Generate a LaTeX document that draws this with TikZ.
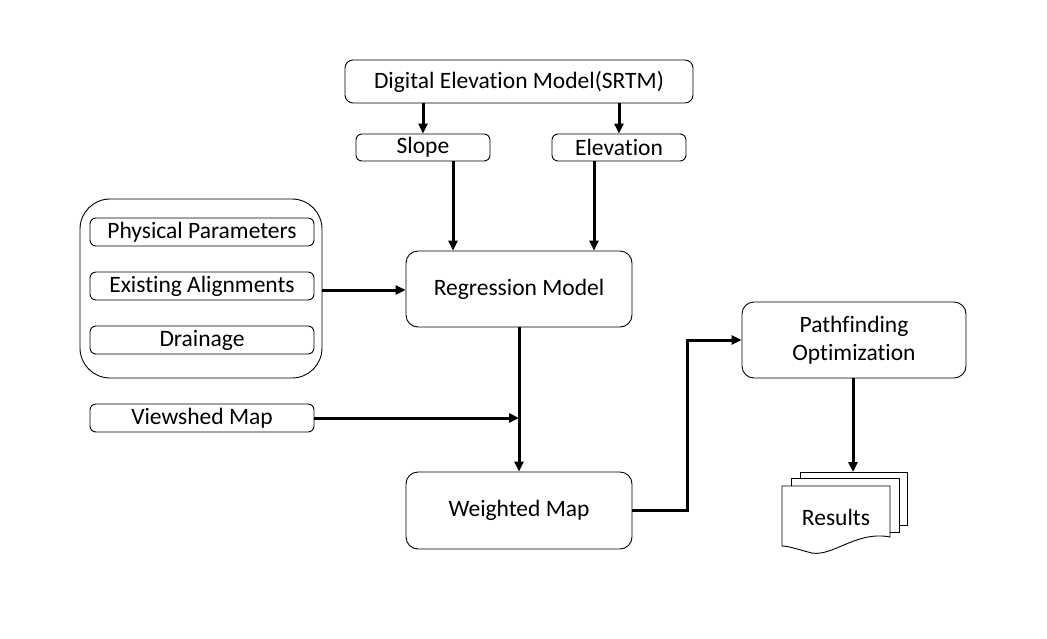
\documentclass[tikz,border=0pt]{standalone}
\usepackage{fontspec}
\setmainfont{Carlito}[Ligatures={CommonOff}]
\usetikzlibrary{arrows.meta}
\begin{document}
\begin{tikzpicture}[x=1pt,y=-1pt,
  every node/.style={font=\fontsize{23.5}{28}\selectfont, inner sep=0pt},
  box/.style={draw, line width=0.9pt, rounded corners=#1},
  box/.default=6pt,
  conn/.style={line width=3pt, -{Triangle[length=10pt,width=9pt]}},
  line/.style={line width=3pt}]
\useasboundingbox (0,0) rectangle (1047,638);
% group container
\draw[box=30pt] (80,199) rectangle (322,378);
\node[box, minimum width=224pt, minimum height=28pt] (phys) at (202,232) {Physical Parameters};
\node[box, minimum width=224pt, minimum height=28pt] (exist) at (202,286) {Existing Alignments};
\node[box, minimum width=224pt, minimum height=28pt] (drain) at (202,340) {Drainage};
\coordinate (grp) at (322,290);
\node[box, minimum width=224pt, minimum height=28pt] (view) at (202,418) {Viewshed Map};
% top
\node[box=8pt, minimum width=348pt, minimum height=43pt] (dem) at (519,81.5) {Digital Elevation Model(SRTM)};
\node[box, minimum width=134pt, minimum height=27pt] (slope) at (423,147.5) {Slope};
\node[box, minimum width=134pt, minimum height=27pt] (elev) at (619,147.5) {Elevation};
% main
\node[box=12pt, minimum width=226pt, minimum height=76pt] (reg) at (519,289) {Regression Model};
\node[box=12pt, minimum width=226pt, minimum height=77pt] (wm) at (519,510.5) {Weighted Map};
\node[box=12pt, minimum width=224pt, minimum height=76pt, align=center] (path) at (854,340) {Pathfinding\\Optimization};
% results document stack
\draw[line width=0.9pt, fill=white] (800,472) -- (907,472) -- (907,525) -- (899,525);
\draw[line width=0.9pt, fill=white] (791,478) -- (899,478) -- (899,532) -- (890,532);
\draw[line width=0.9pt, fill=white] (782,486) -- (890,486) -- (890,537)
   .. controls (855,530) and (830,560) .. (808,552) .. controls (797,549) and (788,546) .. (782,546) -- cycle;
\draw[line width=0.9pt] (800,472) -- (800,478);
\draw[line width=0.9pt] (791,478) -- (791,486);
\node (res) at (836,517) {Results};
\coordinate (restop) at (853,472);
% connectors
\draw[conn] (dem.south -| slope) -- (slope.north);
\draw[conn] (dem.south -| elev) -- (elev.north);
\draw[conn] ([xshift=30pt]slope.south) -- ([xshift=30pt]slope.south |- reg.north);
\draw[conn] ([xshift=-25pt]elev.south) -- ([xshift=-25pt]elev.south |- reg.north);
\draw[conn] (grp) -- (reg.west |- grp);
\draw[conn] (reg.south) -- (wm.north);
\draw[conn] (view.east) -- (reg.south |- view.east);
\draw[conn] (wm.east) -- (687,510.5) |- (path.west);
\draw[conn] (path.south -| restop) -- (restop);
\end{tikzpicture}
\end{document}
